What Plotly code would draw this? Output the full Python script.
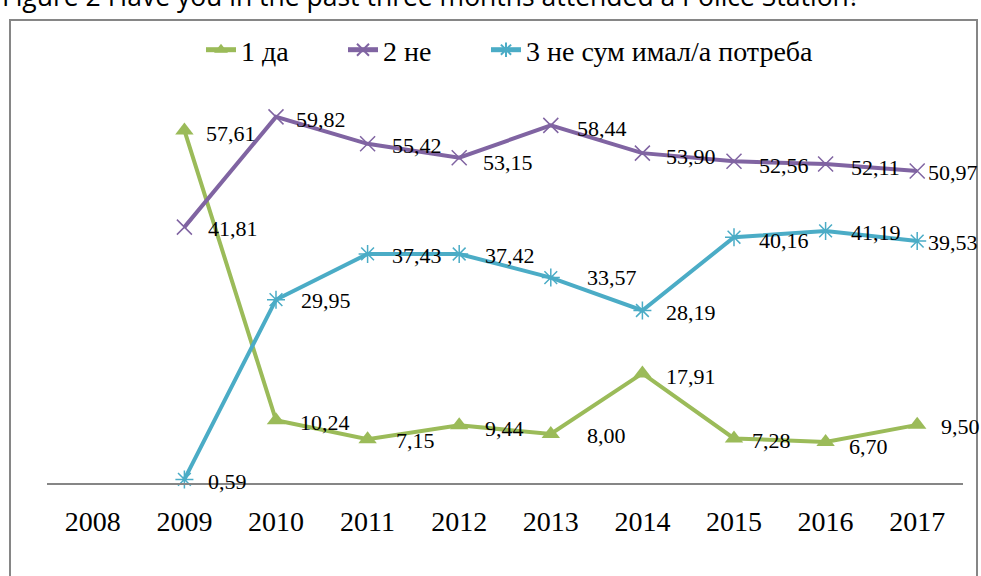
import plotly.graph_objects as go

years = ["2008", "2009", "2010", "2011", "2012", "2013", "2014", "2015", "2016", "2017"]
series_years = years[1:]
da = [57.61, 10.24, 7.15, 9.44, 8.00, 17.91, 7.28, 6.70, 9.50]
ne = [41.81, 59.82, 55.42, 53.15, 58.44, 53.90, 52.56, 52.11, 50.97]
nesum = [0.59, 29.95, 37.43, 37.42, 33.57, 28.19, 40.16, 41.19, 39.53]
names = ["1 да", "2 не", "3 не сум имал/а потреба"]
title_text = "Figure 2 Have you in the past three months attended a Police Station?"

# label offsets (pixels right of point / below point) — styling only
da_dx = [20, 22, 26, 24, 34, 22, 16, 21, 22]
da_dy = [3, 2, 1, 3, 1, 3, 2, 4, 2]
ne_dx = [22, 18, 22, 22, 24, 22, 23, 23, 9]
ne_dy = [1, 3, 2, 5, 3, 3, 4, 3, 1]
cy_dx = [22, 23, 22, 24, 34, 22, 23, 23, 9]
cy_dy = [2, 1, 2, 2, 0, 2, 3, 2, 1]

def fmt(v):
    return f"{v:.2f}".replace(".", ",")

GREEN = "#9BBB59"
PURPLE = "#8064A2"
CYAN = "#4BACC6"
SERIF = "Liberation Serif, DejaVu Serif, serif"

W, H = 981, 576
L, R, T, B = 47, 18, 60, 93
pw, ph = W - L - R, H - T - B

def px2x(p):
    return (p - L) / pw

def px2y(p):
    return (H - B - p) / ph

LBL = dict(family=SERIF, size=22, color="black")

fig = go.Figure()

fig.add_trace(go.Scatter(
    x=series_years, y=da, name=names[0], mode="lines+markers", legend="legend",
    line=dict(color=GREEN, width=4),
    marker=dict(symbol="triangle-up", size=16, color=GREEN), cliponaxis=False,
))
fig.add_trace(go.Scatter(
    x=series_years, y=ne, name=names[1], mode="lines+markers", legend="legend2",
    line=dict(color=PURPLE, width=4),
    marker=dict(symbol="x-thin", size=15, color=PURPLE, line=dict(color=PURPLE, width=1.5)),
    cliponaxis=False,
))
fig.add_trace(go.Scatter(
    x=series_years, y=nesum, name=names[2], mode="lines+markers", legend="legend3",
    line=dict(color=CYAN, width=4),
    marker=dict(symbol="asterisk", size=15, color=CYAN, line=dict(color=CYAN, width=1.5)),
    cliponaxis=False,
))

annotations = [dict(text=title_text, xref="paper", yref="paper", x=px2x(0), y=px2y(-4),
                    xanchor="left", yanchor="middle", showarrow=False,
                    font=dict(family="Open Sans, Noto Sans, sans-serif", size=26.5, color="black"))]
for vals, dxs, dys in [(da, da_dx, da_dy), (ne, ne_dx, ne_dy), (nesum, cy_dx, cy_dy)]:
    for yr, v, dx, dy in zip(series_years, vals, dxs, dys):
        annotations.append(dict(x=years.index(yr), y=v, xref="x", yref="y", text=fmt(v),
                                showarrow=False, xanchor="left", yanchor="middle",
                                xshift=dx, yshift=-dy, font=dict(LBL)))

def leg(xpx):
    return dict(orientation="h", x=px2x(xpx), y=px2y(50), xanchor="left", yanchor="middle",
                font=dict(family=SERIF, size=28, color="black"), bgcolor="rgba(0,0,0,0)",
                itemsizing="constant")

fig.update_layout(
    width=W, height=H,
    margin=dict(l=L, r=R, t=T, b=B, pad=0),
    paper_bgcolor="white", plot_bgcolor="white",
    showlegend=True,
    legend=leg(201), legend2=leg(343), legend3=leg(486),
    xaxis=dict(type="category", categoryorder="array", categoryarray=years,
               range=[-0.5, 9.5], showgrid=False, zeroline=False,
               showline=True, linecolor="#868686", linewidth=2,
               ticks="", tickfont=dict(family=SERIF, size=28, color="black"),
               ticklabelstandoff=12),
    yaxis=dict(range=[0, ph / 6.12], visible=False, showgrid=False, zeroline=False),
    shapes=[dict(type="rect", xref="paper", yref="paper",
                 x0=px2x(10), x1=px2x(977), y0=px2y(600), y1=px2y(20),
                 line=dict(color="#868686", width=2), fillcolor="rgba(0,0,0,0)", layer="below")],
    annotations=annotations,
)

fig.write_html("out.html", config={"displayModeBar": False},
               post_script="document.body.style.margin='0';document.body.style.padding='0';")
